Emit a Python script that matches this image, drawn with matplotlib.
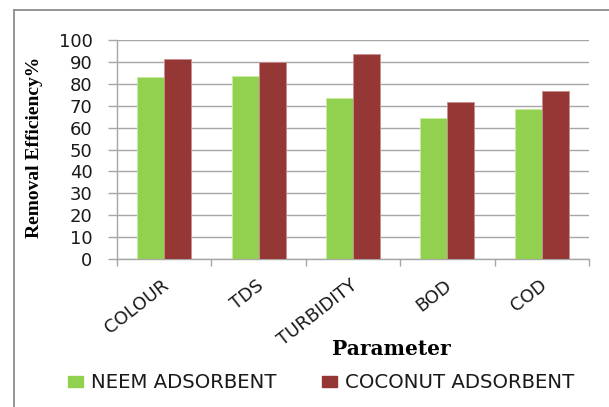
import numpy as np
import matplotlib
matplotlib.use("Agg")
import matplotlib.pyplot as plt
from matplotlib.lines import Line2D
from matplotlib.patches import Patch

# data
categories = ["COLOUR", "TDS", "TURBIDITY", "BOD", "COD"]
neem = [83.0, 83.4, 73.7, 64.3, 68.5]
coconut = [91.5, 89.8, 93.6, 71.7, 76.9]
series_names = ["NEEM ADSORBENT", "COCONUT ADSORBENT"]
yticks = [0, 10, 20, 30, 40, 50, 60, 70, 80, 90, 100]

green = "#92D050"
maroon = "#953735"
grid_col = "#A6A6A6"
txt_col = "#1a1a1a"

fig = plt.figure(figsize=(6.09, 4.07), dpi=100)
ax = fig.add_axes([0.192, 0.3636, 0.775, 0.538])

x = np.arange(len(categories))
w = 0.286
ax.bar(x - w / 2, neem, w, color=green, edgecolor="#C8EBA0", linewidth=0.6, zorder=3)
ax.bar(x + w / 2, coconut, w, color=maroon, edgecolor="#C89090", linewidth=0.6, zorder=3)

ax.set_xlim(-0.5, len(categories) - 0.5)
ax.set_ylim(0, 100)
ax.set_yticks(yticks)
ax.set_yticklabels([str(t) for t in yticks], fontsize=13, color=txt_col)
ax.yaxis.grid(True, color=grid_col, linewidth=1.0, zorder=0)
ax.set_axisbelow(True)

# ticks sit on the category boundaries, names go under the centres
ax.set_xticks(np.arange(len(categories) + 1) - 0.5)
ax.set_xticklabels([])
ax.tick_params(axis="x", length=5, color=grid_col, width=1)
ax.tick_params(axis="y", length=6.5, color=grid_col, width=1, pad=11)
for i, c in enumerate(categories):
    ax.text(i - 0.03, -8, c, rotation=38, ha="right", va="top",
            rotation_mode="anchor", fontsize=13, color=txt_col,
            transform=ax.transData)

for s in ["top", "right"]:
    ax.spines[s].set_visible(False)
for s in ["left", "bottom"]:
    ax.spines[s].set_color(grid_col)
    ax.spines[s].set_linewidth(1)

fig.text(0.056, 0.638, "Removal Efficiency%", rotation=90, ha="center", va="center",
         fontsize=14, fontweight="bold", family="Liberation Serif")
fig.text(0.642, 0.142, "Parameter", ha="center", va="center",
         fontsize=14.5, fontweight="bold", family="DejaVu Serif")

handles = [Patch(facecolor=green, edgecolor=green), Patch(facecolor=maroon, edgecolor=maroon)]
fig.legend(handles, series_names, loc="center", bbox_to_anchor=(0.528, 0.059), ncol=2,
           frameon=False, fontsize=14.2, handlelength=0.72, handleheight=0.55,
           handletextpad=0.45, columnspacing=2.3, labelcolor=txt_col)

# outer chart border, only the left and top edges are inside the picture
fig.add_artist(Line2D([0.023, 0.023], [0.0, 0.975], transform=fig.transFigure,
                      color="#8C8C8C", linewidth=1.3))
fig.add_artist(Line2D([0.023, 1.0], [0.975, 0.975], transform=fig.transFigure,
                      color="#8C8C8C", linewidth=1.3))

fig.savefig("out.png", dpi=100)
